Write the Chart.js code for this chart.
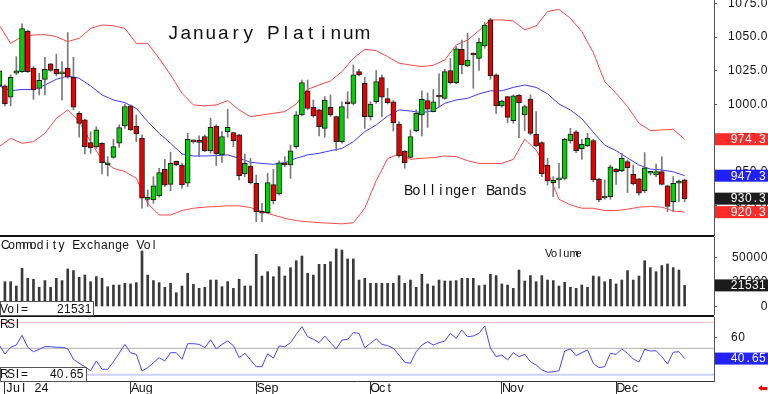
<!DOCTYPE html>
<html>
<head>
<meta charset="utf-8">
<title>January Platinum</title>
<script src="https://cdn.jsdelivr.net/npm/chart.js@4.4.1/dist/chart.umd.min.js"></script>
<style>
  html, body { margin: 0; padding: 0; background: #fff; }
  body { position: relative; width: 768px; height: 394px; overflow: hidden; font-family: "Liberation Sans", Arial, sans-serif; color: #111; }
  canvas { position: absolute; left: 0; }
  .m { position: absolute; white-space: nowrap; line-height: 1; z-index: 3; }
  .m span { display: inline-block; text-align: center; white-space: pre; }
  .rule { position: absolute; left: 0; width: 714px; background: #111; z-index: 2; }
  .box { position: absolute; left: 0; background: #fff; border: 1px solid #555; box-sizing: border-box; z-index: 2; }
</style>
</head>
<body>
<canvas id="priceChart" width="768" height="236" style="top:0"></canvas>
<canvas id="volChart" width="768" height="78" style="top:237px"></canvas>
<canvas id="rsiChart" width="768" height="77" style="top:317px"></canvas>

<div class="rule" style="top:235px;height:2px"></div>
<div class="rule" style="top:315px;height:2px"></div>

<div class="m" data-c="12.5" style="left:167px;top:23px;font-size:19px">January Platinum</div>
<div class="m" data-c="8.2" style="left:404px;top:182.5px;font-size:14px">Bollinger Bands</div>
<div class="m" data-c="7.13" style="left:1px;top:238.5px;font-size:12px">Commodity Exchange Vol</div>
<div class="m" data-c="6.1" style="left:545px;top:247.5px;font-size:11px">Volume</div>
<div class="m" data-c="7" style="left:0;top:317.5px;font-size:12px">RSI</div>

<div class="box" style="top:301px;width:94px;height:15px"></div>
<div class="m" data-c="7" style="left:0;top:302.5px;font-size:12px">Vol=</div>
<div class="m" id="volText" data-c="6.9" style="left:57px;top:302.5px;font-size:12px"></div>

<div class="box" style="top:367px;width:87px;height:15px"></div>
<div class="m" data-c="7" style="left:0;top:368px;font-size:12px">RSI=</div>
<div class="m" id="rsiText" data-c="6.7" style="left:50px;top:368px;font-size:12px"></div>

<div style="position:absolute;left:758px;top:385px;width:0;height:0;border-top:3px solid transparent;border-bottom:3px solid transparent;border-right:4px solid #f00"></div>
<div style="position:absolute;left:762px;top:386.5px;width:5px;height:3px;background:#f00"></div>

<script>
// daily bars, index 0 = Jun 28 2024 ... index 120 = Dec 18 2024
const opens = [
  1013.8, 1013.8, 1005.4, 1023.2, 1024.4, 1054.5, 1027.1, 1012.0, 1018.7, 1030.1,
  1026.1, 1022.7, 1027.1, 1020.2, 993.5, 988.6, 971.8, 968.8, 971.3, 955.4,
  960.9, 971.3, 984.1, 999.0, 984.1, 975.0, 929.8, 929.3, 932.3, 952.1,
  940.9, 957.9, 955.2, 941.7, 972.8, 973.0, 976.3, 965.8, 984.1, 962.7,
  979.9, 979.2, 977.5, 948.6, 954.4, 941.7, 920.7, 920.0, 940.7, 933.8,
  956.9, 955.2, 968.8, 992.3, 1010.2, 998.0, 996.0, 982.4, 998.0, 991.0,
  972.5, 1001.1, 1000.9, 1024.4, 1015.7, 991.0, 1002.1, 1020.0, 1004.4, 1002.1,
  985.6, 965.6, 960.9, 980.7, 992.3, 1002.9, 994.8, 1006.1, 1004.6, 1025.2,
  1016.2, 1040.9, 1028.6, 1037.9, 1034.2, 1043.4, 1062.7, 1022.0, 999.0, 1005.9,
  988.1, 1007.1, 992.3, 1004.1, 978.2, 971.8, 955.2, 942.2, 944.2, 945.3,
  973.0, 979.7, 967.3, 969.3, 973.3, 944.7, 930.8, 931.8, 952.2, 951.0,
  957.7, 948.3, 944.9, 936.2, 949.1, 947.8, 950.3, 939.7, 928.1, 941.7,
  944.2
];
const highs = [
  1026.8, 1014.6, 1022.0, 1035.5, 1059.7, 1055.2, 1028.1, 1023.2, 1035.0, 1030.4,
  1037.4, 1031.8, 1053.3, 1035.0, 994.8, 989.3, 979.9, 983.6, 971.9, 961.4,
  974.3, 984.9, 1000.4, 999.7, 992.3, 977.5, 936.7, 946.6, 952.8, 959.4,
  964.7, 958.2, 956.4, 978.7, 973.8, 976.8, 977.5, 989.9, 984.9, 979.9,
  996.5, 979.4, 977.9, 963.4, 960.2, 947.8, 926.9, 949.1, 952.1, 958.4,
  961.4, 970.0, 994.8, 1018.2, 1018.2, 1003.4, 996.5, 1005.9, 1007.1, 991.5,
  1002.1, 1009.6, 1029.3, 1026.1, 1020.2, 1002.1, 1025.2, 1022.0, 1012.0, 1002.9,
  987.4, 965.9, 981.2, 996.0, 1010.2, 1008.7, 1011.2, 1022.7, 1026.1, 1034.2,
  1042.9, 1047.8, 1052.8, 1038.4, 1049.1, 1060.7, 1063.9, 1022.7, 1003.4, 1006.1,
  1007.1, 1007.4, 999.7, 1007.1, 994.8, 972.5, 960.2, 946.6, 956.4, 975.0,
  982.4, 980.7, 974.3, 978.7, 974.3, 945.4, 944.2, 955.2, 952.7, 963.9,
  958.9, 955.2, 945.4, 964.4, 950.6, 955.9, 961.4, 940.4, 946.6, 944.2,
  944.9
];
const lows = [
  1012.8, 999.0, 999.0, 1022.0, 1023.7, 1023.7, 1003.9, 1007.1, 1007.1, 1024.5,
  1021.2, 1003.4, 1019.5, 996.0, 975.8, 963.4, 963.9, 967.5, 948.6, 947.1,
  960.2, 968.3, 982.4, 980.7, 972.5, 923.2, 924.5, 926.8, 931.3, 939.2,
  936.2, 954.7, 938.0, 939.2, 971.3, 961.4, 965.1, 963.9, 954.7, 957.2,
  975.8, 968.8, 944.2, 946.6, 941.2, 913.2, 913.2, 919.5, 926.3, 933.1,
  953.9, 945.3, 967.5, 991.5, 996.0, 990.5, 976.8, 975.8, 991.0, 965.8,
  971.3, 989.8, 999.7, 1021.2, 982.4, 988.5, 1000.9, 991.0, 1000.4, 980.4,
  960.9, 952.8, 960.2, 979.9, 976.8, 983.1, 994.5, 998.0, 1003.9, 1015.2,
  1015.2, 1022.7, 1028.1, 1012.0, 1025.2, 1041.7, 1018.7, 993.5, 998.0, 986.6,
  986.1, 975.5, 980.7, 977.5, 968.8, 946.6, 940.4, 931.8, 938.0, 944.2,
  971.3, 964.4, 959.4, 968.8, 942.9, 928.1, 929.8, 929.8, 940.9, 950.2,
  934.8, 940.4, 932.8, 934.8, 947.8, 946.6, 940.4, 920.7, 920.7, 928.1,
  928.1
];
const closes = [
  1024.9, 1000.4, 1020.2, 1024.9, 1056.2, 1024.4, 1010.8, 1018.0, 1026.1, 1025.2,
  1022.7, 1024.2, 1020.2, 998.0, 986.1, 968.8, 967.8, 981.2, 956.9, 956.2,
  968.8, 982.9, 998.5, 981.2, 978.2, 930.6, 931.3, 939.7, 949.6, 940.2,
  956.4, 955.4, 940.4, 974.3, 972.3, 972.0, 965.8, 983.1, 963.4, 976.3,
  983.1, 973.3, 947.3, 956.4, 942.2, 920.7, 919.5, 942.2, 928.8, 956.9,
  955.2, 965.8, 992.3, 1016.2, 997.2, 991.5, 983.6, 1003.4, 992.3, 972.5,
  998.5, 1000.6, 1022.0, 1022.0, 991.0, 1000.4, 1017.0, 1005.4, 1001.4, 986.6,
  961.9, 956.9, 976.3, 993.5, 1003.9, 996.5, 1002.1, 1005.6, 1024.4, 1016.2,
  1041.2, 1029.3, 1033.0, 1036.7, 1046.1, 1058.9, 1021.2, 999.0, 1002.6, 990.5,
  1006.4, 1001.4, 998.5, 978.7, 969.3, 948.6, 943.4, 943.9, 944.9, 974.3,
  978.2, 965.8, 970.5, 975.0, 944.2, 929.3, 931.8, 953.9, 950.2, 960.2,
  953.2, 941.2, 934.3, 953.2, 949.6, 950.3, 940.9, 924.5, 941.7, 943.4,
  930.3
];
const volumes = [
  null, 25300, 25300, 20900, 38900, 28700, 27700, 19600, 26400, 19600,
  28700, 26400, 38300, 36600, 29800, 32100, 25300, 30400, 28700, 20200,
  21900, 21900, 23600, 23000, 24300, 56600, 32100, 26400, 24300, 19600,
  23600, 14100, 20900, 33800, 22600, 18500, 19600, 27000, 27000, 20200,
  25300, 18500, 27700, 20900, 20900, 53200, 31100, 35500, 30400, 40600,
  31100, 39600, 46700, 51500, 33800, 32100, 43000, 43000, 45700, 58700,
  57600, 48500, 48500, 27000, 28700, 23600, 23600, 23600, 23600, 23600,
  31500, 23600, 27000, 19600, 32800, 23000, 20900, 27000, 26000, 26000,
  26400, 28700, 28700, 28700, 21300, 21900, 32800, 31500, 23000, 21900,
  18500, 37200, 26000, 31500, 25300, 31500, 27000, 26400, 20900, 24700,
  19600, 18500, 21900, 19600, 31100, 30400, 25300, 27700, 23000, 27000,
  36600, 27000, 31100, 46700, 39600, 35500, 41700, 43400, 39600, 37200,
  21531
];
const rsiValues = [
  53.0, 44.8, 50.9, 53.0, 61.8, 50.9, 46.9, 49.1, 51.5, 51.5,
  50.9, 50.9, 49.6, 40.0, 36.4, 33.3, 29.6, 38.5, 30.9, 30.9,
  37.8, 45.5, 53.6, 46.0, 44.5, 29.4, 32.4, 36.9, 41.5, 38.5,
  46.0, 46.0, 40.0, 54.2, 54.2, 53.6, 50.5, 57.8, 49.4, 53.6,
  56.6, 52.4, 41.5, 45.5, 39.4, 33.3, 33.3, 45.1, 40.9, 52.1,
  51.5, 55.1, 62.7, 69.6, 60.5, 58.2, 55.1, 61.2, 55.1, 49.4,
  57.5, 58.2, 64.2, 63.6, 50.5, 54.5, 58.7, 53.6, 52.4, 50.0,
  43.9, 37.3, 36.4, 46.9, 53.0, 56.0, 53.0, 55.1, 56.6, 63.6,
  59.1, 66.6, 60.5, 61.2, 63.6, 70.3, 50.0, 42.4, 43.9, 39.4,
  46.0, 42.4, 44.5, 37.8, 34.8, 30.3, 28.2, 28.7, 29.6, 47.5,
  49.4, 43.3, 46.0, 48.5, 36.4, 32.4, 33.3, 45.5, 44.5, 49.4,
  45.5, 40.3, 37.5, 49.1, 47.5, 47.8, 42.4, 35.7, 46.4, 46.9,
  40.65
];
// bollinger bands read every second bar
const bandIdx = [
  0, 2, 4, 6, 8, 10, 12, 14, 16, 18, 20, 22, 24, 26, 28, 30, 32, 34, 36, 38,
  40, 42, 44, 46, 48, 50, 52, 54, 56, 58, 60, 62, 64, 66, 68, 70, 72, 74, 76, 78,
  80, 82, 84, 86, 88, 90, 92, 94, 96, 98, 100, 102, 104, 106, 108, 110, 112, 114, 116, 118,
  120
];
const upperBand = [
  1058.9, 1045.3, 1050.3, 1051.5, 1051.8, 1050.3, 1046.6, 1049.1, 1056.4, 1058.9,
  1058.4, 1056.4, 1045.3, 1045.3, 1034.2, 1022.0, 1008.3, 999.7, 999.0, 999.7,
  1002.9, 996.0, 991.0, 992.3, 993.5, 994.8, 1000.4, 1011.2, 1014.5, 1017.5,
  1024.4, 1034.2, 1040.9, 1039.9, 1035.5, 1030.6, 1029.3, 1028.1, 1029.1, 1033.0,
  1044.1, 1047.8, 1054.8, 1062.7, 1062.7, 1061.9, 1055.3, 1058.2, 1068.9, 1070.5,
  1063.9, 1054.0, 1038.5, 1017.0, 1008.3, 998.5, 986.1, 980.7, 981.2, 981.7,
  974.3
];
const middleBand = [
  1013.8, 1010.2, 1011.2, 1011.2, 1014.5, 1018.7, 1021.2, 1019.5, 1013.8, 1007.1,
  1003.4, 1001.4, 997.2, 987.4, 978.7, 971.3, 963.4, 961.9, 961.9, 962.2,
  962.7, 960.2, 957.2, 956.4, 955.7, 956.9, 960.2, 962.7, 963.9, 965.8,
  967.5, 972.5, 979.9, 984.9, 991.5, 996.0, 995.2, 994.0, 995.5, 1000.9,
  1003.4, 1004.6, 1007.9, 1010.2, 1010.2, 1012.7, 1014.5, 1012.7, 1007.9, 1000.4,
  996.0, 989.5, 979.5, 970.0, 965.8, 960.4, 955.2, 952.2, 951.5, 950.2,
  947.3
];
const lowerBand = [
  968.8, 975.0, 971.3, 972.5, 978.7, 989.8, 996.0, 987.4, 972.5, 958.9,
  952.8, 950.3, 945.4, 926.8, 918.2, 918.2, 921.5, 923.2, 924.0, 924.5,
  925.0, 925.0, 923.7, 920.7, 918.2, 915.7, 914.0, 913.2, 912.5, 912.1,
  911.6, 912.5, 923.2, 943.7, 959.9, 963.4, 959.4, 960.2, 960.7, 961.9,
  961.4, 958.4, 956.4, 956.4, 956.4, 959.4, 974.3, 966.3, 950.3, 929.8,
  925.7, 923.2, 923.2, 921.5, 921.5, 922.5, 924.0, 924.5, 924.0, 921.2,
  920.3
];
const monthIdx = [1, 23, 45, 65, 88, 108];
const monthLabels = ['Jul 24', 'Aug', 'Sep', 'Oct', 'Nov', 'Dec'];
const priceTicks = [925, 950, 975, 1000, 1025, 1050, 1075];
const volTicks = [0, 25000, 50000];
const rsiTicks = [40, 60];
const rsiLevels = [73.6, 50, 26];

const GREEN = '#00d400';
const RED = '#e80000';
const BAND_RED = '#ff4646';
const BAND_BLUE = '#3a3aff';
const X_MIN = 0.14, X_MAX = 125.14;
const AXIS_FONT = { family: '"Liberation Sans", Arial, sans-serif', size: 12 };
const last = closes.length - 1;

Chart.defaults.font.family = AXIS_FONT.family;

function fitRight(scale) {
  scale.width = 54;
  scale.paddingTop = 0;
  scale.paddingBottom = 0;
}

// draws text with every character in its own cell, like the fixed pitch chart font
function cellText(ctx, str, left, y, cell) {
  ctx.save();
  ctx.letterSpacing = '0px';
  ctx.textAlign = 'center';
  [...str].forEach((ch, k) => ctx.fillText(ch, left + (k + 0.5) * cell, y));
  ctx.restore();
}

const spacing = {
  id: 'spacing',
  beforeDraw(chart) { chart.ctx.letterSpacing = '0.55px'; }
};

function valueBoxes(items) {
  return {
    id: 'valueBoxes',
    afterDraw(chart) {
      const ctx = chart.ctx;
      const ys = chart.scales.y;
      ctx.save();
      ctx.font = '12px "Liberation Sans", Arial, sans-serif';
      ctx.textBaseline = 'middle';
      items.forEach(b => {
        const py = ys.getPixelForValue(b.value);
        ctx.fillStyle = b.color;
        ctx.fillRect(chart.chartArea.right + 1, py - 6, 53, 12);
        ctx.fillStyle = '#fff';
        cellText(ctx, b.text, 766 - b.text.length * 7.1, py + 0.5, 7.1);
      });
      ctx.restore();
    }
  };
}

const monthText = {
  id: 'monthText',
  afterDraw(chart) {
    const ctx = chart.ctx;
    const xs = chart.scales.x;
    ctx.save();
    ctx.fillStyle = '#111';
    ctx.font = '12.5px "Liberation Sans", Arial, sans-serif';
    ctx.textBaseline = 'alphabetic';
    monthIdx.forEach((m, k) => {
      cellText(ctx, monthLabels[k], xs.getPixelForValue(m) + 1, 75.3, 7.1);
    });
    ctx.restore();
  }
};

const hiddenX = { type: 'linear', min: X_MIN, max: X_MAX, offset: false, display: false };

function rightAxis(min, max, tickValues, fmt, align, pad) {
  return {
    position: 'right', min: min, max: max,
    afterBuildTicks(s) { s.ticks = tickValues.map(v => ({ value: v })); },
    afterFit: fitRight,
    ticks: { callback: fmt, color: '#111', font: AXIS_FONT, crossAlign: align, padding: pad },
    grid: { drawOnChartArea: false, drawTicks: true, tickLength: 3, color: '#555' },
    border: { display: true, color: '#555', width: 1 }
  };
}

const baseOptions = {
  responsive: false,
  animation: false,
  devicePixelRatio: 1,
  layout: { padding: 0 },
  plugins: { legend: { display: false }, tooltip: { enabled: false } }
};

// price panel
const idx = closes.map((c, i) => i);
new Chart(document.getElementById('priceChart'), {
  type: 'bar',
  data: {
    datasets: [
      {
        label: 'body',
        data: idx.map(i => ({ x: i, y: [opens[i], closes[i]] })),
        backgroundColor: idx.map(i => closes[i] >= opens[i] ? GREEN : RED),
        borderColor: '#1a1a1a', borderWidth: 1, borderSkipped: false,
        barThickness: 5, minBarLength: 2, grouped: false, order: 0
      },
      {
        label: 'wick',
        data: idx.map(i => ({ x: i, y: [lows[i], highs[i]] })),
        backgroundColor: '#7a7a7a', barThickness: 1, grouped: false, order: 1
      },
      { type: 'line', label: 'upper', data: bandIdx.map((b, k) => ({ x: b, y: upperBand[k] })), borderColor: BAND_RED, borderWidth: 1, pointRadius: 0, tension: 0, order: 2 },
      { type: 'line', label: 'middle', data: bandIdx.map((b, k) => ({ x: b, y: middleBand[k] })), borderColor: BAND_BLUE, borderWidth: 1, pointRadius: 0, tension: 0, order: 2 },
      { type: 'line', label: 'lower', data: bandIdx.map((b, k) => ({ x: b, y: lowerBand[k] })), borderColor: BAND_RED, borderWidth: 1, pointRadius: 0, tension: 0, order: 2 }
    ]
  },
  options: Object.assign({}, baseOptions, {
    scales: {
      x: hiddenX,
      y: rightAxis(902.63, 1077.44, priceTicks, v => v.toFixed(1), 'far', 13)
    }
  }),
  plugins: [spacing, valueBoxes([
    { value: upperBand[upperBand.length - 1], text: upperBand[upperBand.length - 1].toFixed(1), color: '#ff2b2b' },
    { value: middleBand[middleBand.length - 1], text: middleBand[middleBand.length - 1].toFixed(1), color: '#2020ff' },
    { value: closes[last], text: closes[last].toFixed(1), color: '#1c1c1c' },
    { value: lowerBand[lowerBand.length - 1], text: lowerBand[lowerBand.length - 1].toFixed(1), color: '#ff2b2b' }
  ])]
});

// volume panel
new Chart(document.getElementById('volChart'), {
  type: 'bar',
  data: {
    datasets: [{
      label: 'volume',
      data: volumes.map((v, i) => ({ x: i, y: v })),
      backgroundColor: '#3a3a3a', barThickness: 2
    }]
  },
  options: Object.assign({}, baseOptions, {
    scales: {
      x: hiddenX,
      y: rightAxis(-8670, 70890, volTicks, v => String(v), 'far', 16.5)
    }
  }),
  plugins: [spacing, valueBoxes([
    { value: volumes[last], text: String(volumes[last]), color: '#1c1c1c' }
  ])]
});

// rsi panel
new Chart(document.getElementById('rsiChart'), {
  type: 'line',
  data: {
    datasets: [
      { label: 'RSI', data: rsiValues.map((v, i) => ({ x: i, y: v })), borderColor: '#4646ff', borderWidth: 1, pointRadius: 0, tension: 0, order: 0 }
    ].concat(rsiLevels.map((lvl, k) => ({
      label: 'level ' + lvl,
      data: [{ x: X_MIN, y: lvl }, { x: X_MAX, y: lvl }],
      borderColor: ['#ffbcbc', '#b0b0b0', '#cdd0ff'][k],
      borderWidth: k === 2 ? 2 : 1,
      pointRadius: 0, order: 1
    })))
  },
  options: Object.assign({}, baseOptions, {
    scales: {
      x: {
        type: 'linear', min: X_MIN, max: X_MAX, offset: false,
        afterBuildTicks(s) { s.ticks = monthIdx.map(v => ({ value: v })); },
        afterFit(s) { s.height = 13; s.paddingLeft = 0; s.paddingRight = 0; },
        ticks: { display: false },
        grid: { drawOnChartArea: false, drawTicks: true, tickLength: 13, color: '#333', offset: false },
        border: { display: true, color: '#333' }
      },
      y: rightAxis(20.27, 78.45, rsiTicks, v => String(v), 'near', 14)
    }
  }),
  plugins: [spacing, monthText, valueBoxes([
    { value: rsiValues[last], text: rsiValues[last].toFixed(2), color: '#2222ff' }
  ])]
});

// text overlays
document.getElementById('volText').textContent = String(volumes[last]);
document.getElementById('rsiText').textContent = rsiValues[last].toFixed(2);
document.querySelectorAll('.m').forEach(el => {
  const c = el.dataset.c;
  const chars = [...el.textContent];
  el.textContent = '';
  chars.forEach(ch => {
    const s = document.createElement('span');
    s.style.width = c + 'px';
    s.textContent = ch;
    el.appendChild(s);
  });
});
</script>
</body>
</html>
